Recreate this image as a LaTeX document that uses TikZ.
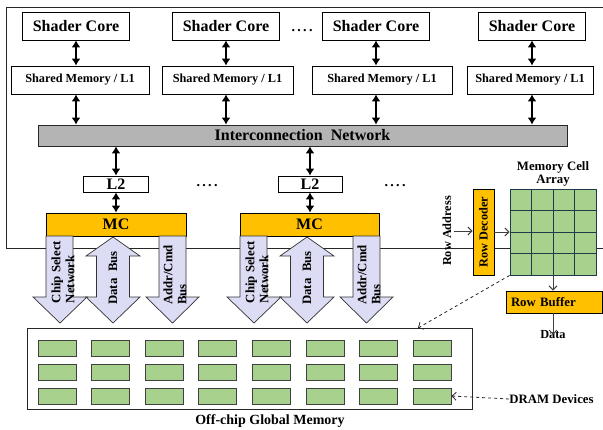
\documentclass[tikz,border=0pt]{standalone}
\usepackage{fontspec}
\setmainfont{Liberation Serif}
\usetikzlibrary{arrows.meta}
\definecolor{gold}{HTML}{FFC000}
\definecolor{cellgreen}{HTML}{A9D18E}
\definecolor{lav}{HTML}{DCDCF4}
\definecolor{netgray}{HTML}{B4B4B4}
\definecolor{gridline}{HTML}{1F3A4A}
\newcommand\szXL{\fontsize{16}{18}\selectfont}
\newcommand\szL{\fontsize{14}{16}\selectfont}
\newcommand\szM{\fontsize{12.8}{14}\selectfont}
\newcommand\szS{\fontsize{12.3}{14}\selectfont}
\begin{document}
\begin{tikzpicture}[x=1pt,y=-1pt,font=\bfseries,
  box/.style={draw=black, line width=0.8pt, fill=white, inner sep=0pt},
  orangebox/.style={draw=black, line width=0.8pt, fill=gold, inner sep=0pt},
  greenbox/.style={draw=black!75, line width=0.8pt, fill=cellgreen, inner sep=0pt, minimum width=38pt, minimum height=16pt},
  dbl/.style={{Latex[length=7pt,width=9pt]}-{Latex[length=7pt,width=9pt]}, line width=2.6pt},
  bigarrow/.style={draw=black!80, line width=0.7pt, fill=lav},
  thinarrow/.style={line width=1pt, draw=black!75, -{Straight Barb[length=4pt,width=8pt]}},
  dasharrow/.style={dashed, line width=0.8pt, draw=black!85, -{Straight Barb[length=4pt,width=8pt]}},
  rottext/.style={rotate=90, align=left, inner sep=0pt, font=\bfseries\szM}
]
\useasboundingbox (0,0) rectangle (603,429);

% chip frame
\draw[line width=0.9pt, black!85] (603,7) -- (6,7) -- (6,248) -- (603,248);

% shader cores and shared memories
\foreach \i/\cx/\mx/\mw in {1/76/80/138, 2/226/227.5/131, 3/376/382/140, 4/532/530/126} {
  \node[box, minimum width=107pt, minimum height=28pt, font=\bfseries\szXL] (sc\i) at (\cx,26) {Shader Core};
  \node[box, minimum width=\mw pt, minimum height=28pt, font=\bfseries\szS] (sm\i) at (\mx,80) {Shared Memory / L1};
}
\node[font=\bfseries\szL, inner sep=0pt] (dots1) at (302,31) {.\,.\,.\,.};

% interconnection network
\node[draw=black!85, line width=0.8pt, fill=netgray, minimum width=529pt, minimum height=21pt, inner sep=0pt, font=\bfseries\szXL] (in) at (302.5,135.5) {Interconnection\ \ Network};

\foreach \i in {1,2,3,4} {
  \draw[dbl] (sc\i.south) -- (sc\i.south |- sm\i.north);
  \draw[dbl] (sc\i.south |- sm\i.south) -- (sc\i.south |- in.north);
}

% L2 and MC
\node[box, minimum width=65pt, minimum height=16pt, font=\bfseries\szXL] (l21) at (116,184) {L2};
\node[box, minimum width=64pt, minimum height=16pt, font=\bfseries\szXL] (l22) at (310,184) {L2};
\node[orangebox, minimum width=140pt, minimum height=23pt, font=\bfseries\szXL] (mc1) at (116,224.5) {MC};
\node[orangebox, minimum width=139pt, minimum height=23pt, font=\bfseries\szXL] (mc2) at (309.5,224.5) {MC};
\node[font=\bfseries\szL, inner sep=0pt] (dots2) at (207,186) {.\,.\,.\,.};
\node[font=\bfseries\szL, inner sep=0pt] (dots3) at (395,186) {.\,.\,.\,.};

\draw[dbl] (l21.north) -- (l21.north |- in.south);
\draw[dbl] (l22.north) -- (l22.north |- in.south);
\draw[dbl] (l21.south) -- (l21.south |- mc1.north);
\draw[dbl] (l22.south) -- (l22.south |- mc2.north);

% buses
\foreach \n/\o in {1/0, 2/194} {
  \draw[bigarrow] (46+\o,236) -- (73+\o,236) -- (73+\o,297) -- (87+\o,297) -- (60+\o,323) -- (33+\o,297) -- (46+\o,297) -- cycle;
  \draw[bigarrow] (113+\o,237) -- (140+\o,256) -- (129.5+\o,256) -- (129.5+\o,297) -- (140+\o,297) -- (113+\o,323) -- (86+\o,297) -- (96.5+\o,297) -- (96.5+\o,256) -- (86+\o,256) -- cycle;
  \draw[bigarrow] (159+\o,236) -- (186+\o,236) -- (186+\o,297) -- (199+\o,297) -- (172.5+\o,323) -- (146+\o,297) -- (159+\o,297) -- cycle;
  \node[rottext] (cs\n) at (63+\o,272) {Chip Select\\Network};
  \node[rottext] (db\n) at (113+\o,278) {Data\ \ Bus};
  \node[rottext] (ac\n) at (175+\o,275) {Addr/Cmd\\Bus};
}

% off-chip memory
\node[draw=black!85, line width=0.8pt, fill=white, minimum width=445pt, minimum height=81pt, inner sep=0pt] (om) at (249.5,368.5) {};
\foreach \r/\ry in {1/348, 2/372, 3/396} {
  \foreach \c in {1,...,8} {
    \node[greenbox] (g\r\c) at ({57+53.6*(\c-1)},\ry) {};
  }
}
\node[font=\bfseries\szL, inner sep=0pt] (omlabel) at (270,421) {Off-chip Global Memory};

% DRAM detail
\node[orangebox, minimum width=21pt, minimum height=86pt] (rd) at (483.5,232) {};
\node[rottext, font=\bfseries\szS] (rdt) at (rd.center) {Row Decoder};
\node[rottext, font=\bfseries\szS] (ra) at (447,231) {Row Address};
\node[draw=gridline, line width=0.9pt, fill=cellgreen, minimum width=86pt, minimum height=86pt, inner sep=0pt] (mca) at (553,232) {};
\foreach \k in {1,2,3} {
  \draw[gridline, line width=0.9pt] (510+21.5*\k,189) -- (510+21.5*\k,275);
  \draw[gridline, line width=0.9pt] (510,189+21.5*\k) -- (596,189+21.5*\k);
}
\node[font=\bfseries\szM, align=center, inner sep=0pt] (mcat) at (553,174) {Memory Cell\\[-1pt]Array};
\node[orangebox, minimum width=96pt, minimum height=22pt, text width=86pt, inner xsep=5pt, align=left, font=\bfseries\szM] (rb) at (554,302) {Row Buffer};
\node[font=\bfseries\szS, inner sep=0pt] (data) at (553,335) {Data};
\node[font=\bfseries\szM, inner sep=0pt] (dram) at (551.5,399) {DRAM Devices};
\coordinate (omtop) at (418,328);

\draw[thinarrow] ([xshift=2pt]ra.south) -- (ra.south -| rd.west);
\draw[thinarrow] (rd.east) -- (rd.east -| mca.west);
\draw[thinarrow] (mca.south) -- (mca.south |- rb.north);
\draw[thinarrow] (rb.south -| mca.south) -- ([yshift=-4pt]data.north);
\draw[dasharrow] (mca.south west) -- (omtop);
\draw[dasharrow] (dram.west) -- (g38.east);
\end{tikzpicture}
\end{document}
